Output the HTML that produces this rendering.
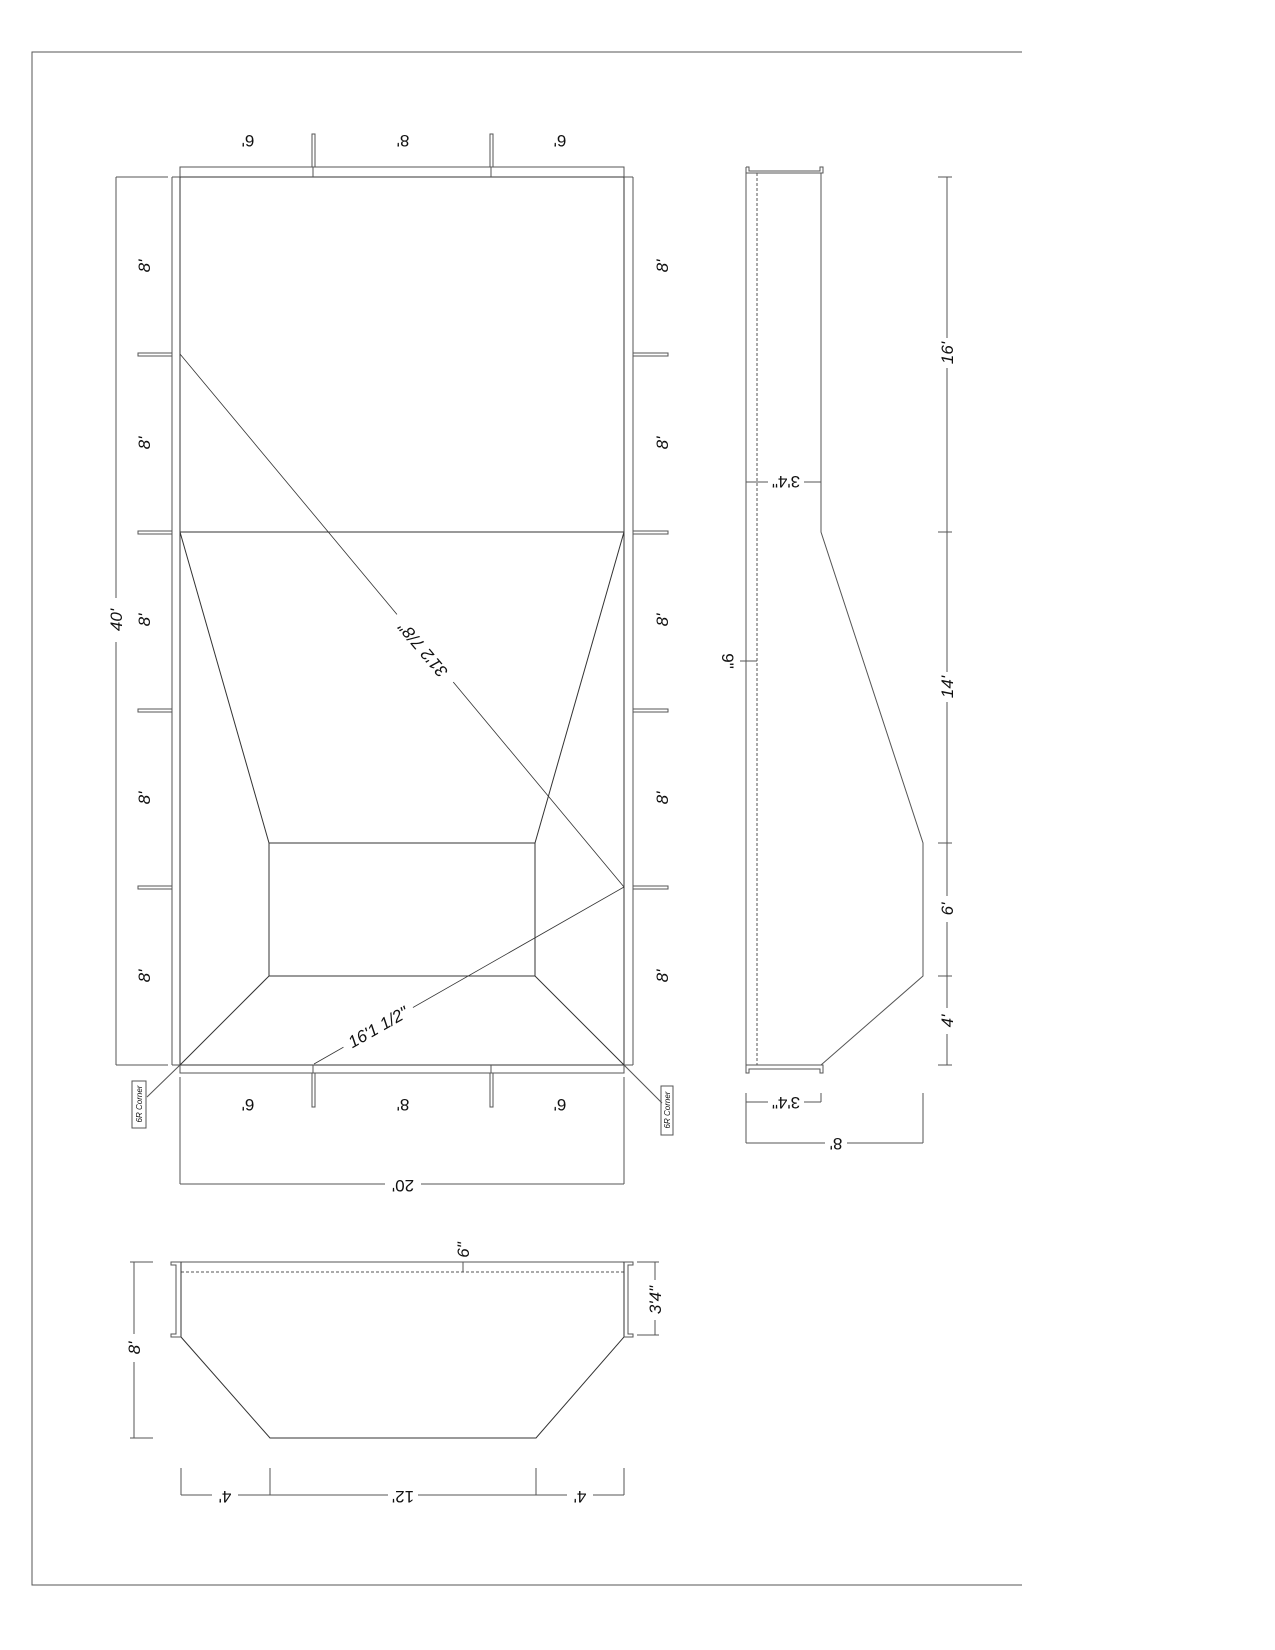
<!DOCTYPE html>
<html><head><meta charset="utf-8"><style>
html,body{margin:0;padding:0;background:#fff;}
svg{display:block;}
text{font-family:"Liberation Sans",sans-serif;font-size:17px;font-style:italic;fill:#111;}
.u{font-style:normal;}
</style></head><body>
<svg width="1275" height="1650" viewBox="0 0 1275 1650" xmlns="http://www.w3.org/2000/svg">
<g fill="none" stroke="#555" stroke-width="1">
<polyline points="1022,52 32,52 32,1585 1022,1585"/>
<rect x="180" y="177" width="444" height="888" stroke="#333"/>
<polyline points="180,177 180,167 624,167 624,177"/>
<polyline points="180,1065 180,1073 624,1073 624,1065"/>
<line x1="172" y1="177" x2="172" y2="1065"/>
<line x1="172" y1="177" x2="180" y2="177"/>
<line x1="172" y1="1065" x2="180" y2="1065"/>
<line x1="633" y1="177" x2="633" y2="1065"/>
<line x1="624" y1="177" x2="633" y2="177"/>
<line x1="624" y1="1065" x2="633" y2="1065"/>
<rect x="312" y="134" width="3" height="33"/><line x1="313" y1="167" x2="313" y2="177"/>
<rect x="490" y="134" width="3" height="33"/><line x1="491" y1="167" x2="491" y2="177"/>
<rect x="312" y="1073" width="3" height="34"/><line x1="313" y1="1065" x2="313" y2="1073"/>
<rect x="490" y="1073" width="3" height="34"/><line x1="491" y1="1065" x2="491" y2="1073"/>
<rect x="138" y="353" width="34" height="3"/><rect x="138" y="531" width="34" height="3"/>
<rect x="138" y="709" width="34" height="3"/><rect x="138" y="886" width="34" height="3"/>
<rect x="633" y="353" width="35" height="3"/><rect x="633" y="531" width="35" height="3"/>
<rect x="633" y="709" width="35" height="3"/><rect x="633" y="886" width="35" height="3"/>
<line x1="116" y1="177" x2="116" y2="1065"/>
<line x1="116" y1="177" x2="168" y2="177"/>
<line x1="116" y1="1065" x2="168" y2="1065"/>
<line x1="180" y1="1077" x2="180" y2="1184"/>
<line x1="624" y1="1077" x2="624" y2="1184"/>
<line x1="180" y1="1184" x2="624" y2="1184"/>
<line x1="180" y1="532" x2="624" y2="532" stroke="#333"/>
<rect x="269" y="843" width="266" height="133" stroke="#333"/>
<line x1="180" y1="532" x2="269" y2="843" stroke="#333"/>
<line x1="624" y1="532" x2="535" y2="843" stroke="#333"/>
<line x1="180" y1="1065" x2="269" y2="976" stroke="#333"/>
<line x1="624" y1="1065" x2="535" y2="976" stroke="#333"/>
<line x1="180" y1="354" x2="624" y2="887" stroke="#333" stroke-width="0.8"/>
<line x1="314" y1="1064" x2="624" y2="887" stroke="#333" stroke-width="0.8"/>
<rect x="132" y="1081" width="14" height="47"/>
<line x1="147" y1="1097" x2="180" y2="1065"/>
<rect x="661" y="1086" width="12" height="49"/>
<line x1="662" y1="1103" x2="624" y2="1065"/>
<polyline points="746,167 746,173 823,173 823,167 820,167 820,171 749,171 749,167 746,167"/>
<line x1="746" y1="173" x2="746" y2="1065"/>
<line x1="757" y1="173" x2="757" y2="1065" stroke-dasharray="3,2"/>
<polyline points="821,173 821,532 923,843 923,976 821,1065"/>
<polyline points="746,1065 823,1065 823,1073 820,1073 820,1069 749,1069 749,1073 746,1073 746,1065"/>
<line x1="746" y1="482" x2="821" y2="482"/>
<line x1="740" y1="661" x2="757" y2="661"/>
<line x1="947" y1="177" x2="947" y2="1065"/>
<line x1="938" y1="177" x2="952" y2="177"/><line x1="938" y1="532" x2="952" y2="532"/>
<line x1="938" y1="843" x2="952" y2="843"/><line x1="938" y1="976" x2="952" y2="976"/>
<line x1="938" y1="1065" x2="952" y2="1065"/>
<line x1="746" y1="1093" x2="746" y2="1143"/><line x1="821" y1="1093" x2="821" y2="1102"/>
<line x1="746" y1="1102" x2="821" y2="1102"/>
<line x1="923" y1="1093" x2="923" y2="1143"/>
<line x1="746" y1="1143" x2="923" y2="1143"/>
<!-- cross-section -->
<line x1="181" y1="1262" x2="624" y2="1262"/>
<line x1="181" y1="1272" x2="624" y2="1272" stroke-dasharray="3,2"/>
<line x1="463" y1="1262" x2="463" y2="1272"/>
<polyline points="181,1262 181,1337 270,1438 536,1438 624,1337 624,1262" stroke="#333"/>
<polyline points="181,1262 171,1262 171,1265 176,1265 176,1334 171,1334 171,1337 181,1337"/>
<polyline points="624,1262 633,1262 633,1265 628,1265 628,1334 633,1334 633,1337 624,1337"/>
<line x1="134" y1="1262" x2="134" y2="1438"/>
<line x1="130" y1="1262" x2="153" y2="1262"/><line x1="130" y1="1438" x2="153" y2="1438"/>
<line x1="655" y1="1262" x2="655" y2="1335"/>
<line x1="637" y1="1262" x2="659" y2="1262"/><line x1="637" y1="1335" x2="659" y2="1335"/>
<line x1="181" y1="1495" x2="624" y2="1495"/>
<line x1="181" y1="1468" x2="181" y2="1495"/><line x1="270" y1="1468" x2="270" y2="1495"/>
<line x1="536" y1="1468" x2="536" y2="1495"/><line x1="624" y1="1468" x2="624" y2="1495"/>
</g>
<g fill="#fff">
<rect x="106" y="598" width="20" height="44"/>
<rect x="385" y="1174" width="36" height="20"/>
<rect x="937" y="338" width="20" height="30"/>
<rect x="937" y="672" width="20" height="30"/>
<rect x="937" y="896" width="20" height="26"/>
<rect x="937" y="1008" width="20" height="26"/>
<rect x="768" y="472" width="36" height="20"/>
<rect x="768" y="1092" width="36" height="20"/>
<rect x="825" y="1133" width="22" height="20"/>
<rect x="124" y="1334" width="20" height="28"/>
<rect x="645" y="1280" width="20" height="40"/>
<rect x="212" y="1485" width="26" height="20"/>
<rect x="388" y="1485" width="30" height="20"/>
<rect x="567" y="1485" width="26" height="20"/>
<rect x="-44" y="-11" width="88" height="22" transform="translate(423,650) rotate(230)"/>
<rect x="-40" y="-11" width="80" height="22" transform="translate(378,1027) rotate(-29.7)"/>
</g>
<g text-anchor="middle">
<text class="u" transform="translate(248,141) rotate(180)" dy="6">6'</text>
<text class="u" transform="translate(403,141) rotate(180)" dy="6">8'</text>
<text class="u" transform="translate(560,141) rotate(180)" dy="6">6'</text>
<text class="u" transform="translate(248,1105) rotate(180)" dy="6">6'</text>
<text class="u" transform="translate(403,1105) rotate(180)" dy="6">8'</text>
<text class="u" transform="translate(560,1105) rotate(180)" dy="6">6'</text>
<text class="u" transform="translate(403,1186) rotate(180)" dy="6">20'</text>
<text transform="translate(144,266) rotate(-90)" dy="6">8'</text>
<text transform="translate(144,443) rotate(-90)" dy="6">8'</text>
<text transform="translate(144,620) rotate(-90)" dy="6">8'</text>
<text transform="translate(144,798) rotate(-90)" dy="6">8'</text>
<text transform="translate(144,976) rotate(-90)" dy="6">8'</text>
<text transform="translate(662,266) rotate(-90)" dy="6">8'</text>
<text transform="translate(662,443) rotate(-90)" dy="6">8'</text>
<text transform="translate(662,620) rotate(-90)" dy="6">8'</text>
<text transform="translate(662,798) rotate(-90)" dy="6">8'</text>
<text transform="translate(662,976) rotate(-90)" dy="6">8'</text>
<text transform="translate(116,620) rotate(-90)" dy="6">40'</text>
<text transform="translate(423,650) rotate(230)" dy="6">31'2 7/8"</text>
<text transform="translate(378,1027) rotate(-29.7)" dy="6">16'1 1/2"</text>
<text style="font-size:8px" transform="translate(139,1104) rotate(-90)" dy="3">6R Corner</text>
<text style="font-size:8px" transform="translate(667,1110) rotate(-90)" dy="3">6R Corner</text>
<text transform="translate(947,353) rotate(-90)" dy="6">16'</text>
<text transform="translate(947,687) rotate(-90)" dy="6">14'</text>
<text transform="translate(947,909) rotate(-90)" dy="6">6'</text>
<text transform="translate(947,1021) rotate(-90)" dy="6">4'</text>
<text class="u" transform="translate(786,482) rotate(180)" dy="6">3'4"</text>
<text class="u" transform="translate(728,661) rotate(90)" dy="6">9"</text>
<text class="u" transform="translate(786,1103) rotate(180)" dy="6">3'4"</text>
<text class="u" transform="translate(836,1144) rotate(180)" dy="6">8'</text>
<text transform="translate(134,1348) rotate(-90)" dy="6">8'</text>
<text transform="translate(655,1300) rotate(-90)" dy="6">3'4"</text>
<text transform="translate(463,1250) rotate(-90)" dy="6">6"</text>
<text class="u" transform="translate(225,1497) rotate(180)" dy="6">4'</text>
<text class="u" transform="translate(403,1497) rotate(180)" dy="6">12'</text>
<text class="u" transform="translate(580,1497) rotate(180)" dy="6">4'</text>
</g>
</svg>
</body></html>
